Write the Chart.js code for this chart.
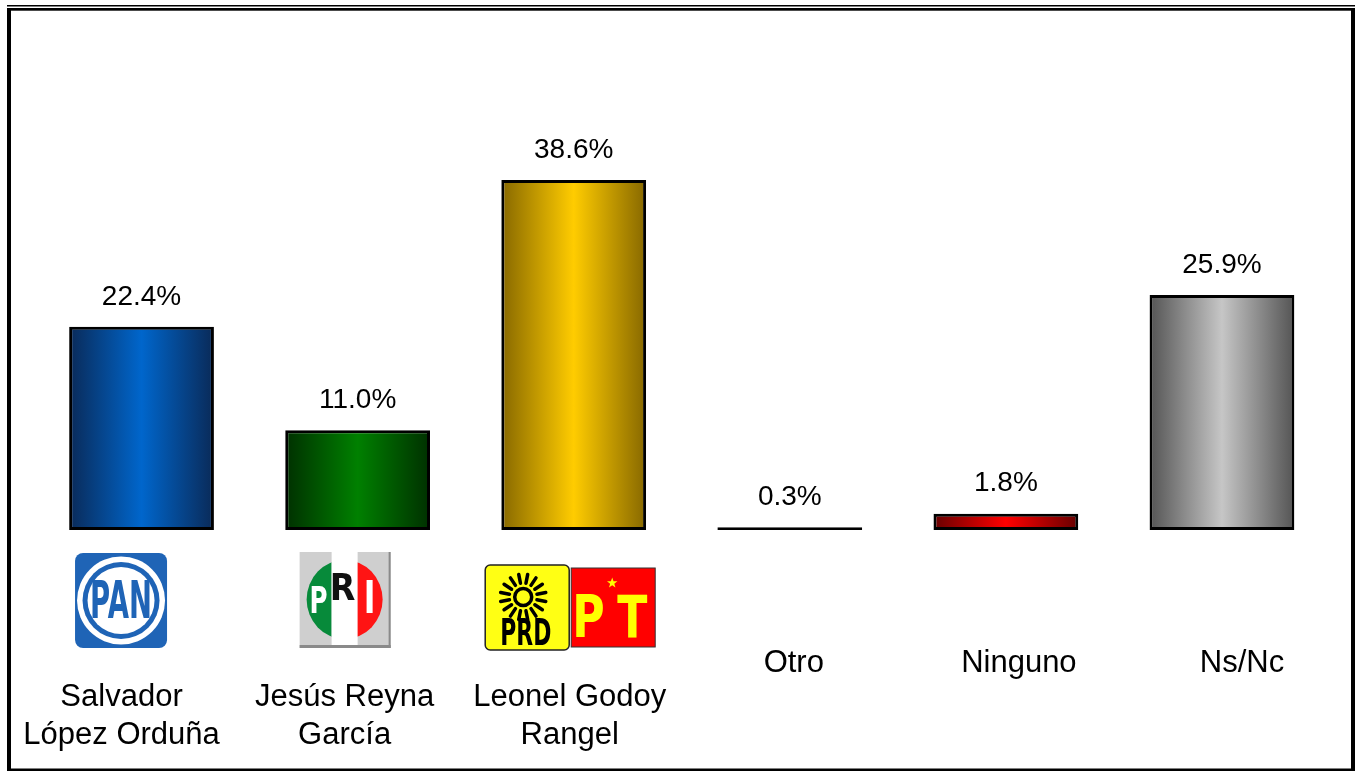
<!DOCTYPE html>
<html><head><meta charset="utf-8">
<script src="https://cdn.jsdelivr.net/npm/chart.js@4/dist/chart.umd.min.js"></script>
<style>html,body{margin:0;padding:0;background:#fff;overflow:hidden}</style>
</head><body>
<canvas id="c" width="1356" height="772"></canvas>
<script>
// ---- data ----
const categories = [['Salvador','López Orduña'],['Jesús Reyna','García'],['Leonel Godoy','Rangel'],['Otro'],['Ninguno'],['Ns/Nc']];
const values = [22.4, 11.0, 38.6, 0.3, 1.8, 25.9];
const parties = ['PAN','PRI','PRD+PT','','',''];
const yMin = 0, yMax = 50;

// ---- styles ----
const barColors = [['#0a2a58','#0066cc'],['#003000','#008000'],['#876800','#ffcc00'],['#000000','#111111'],['#660000','#ff0000'],['#545454','#c6c6c6']];
const labelDx = [-20,-13,-4,4,13,20];
const FONT = '"Liberation Sans", Arial, sans-serif';
const BOLDFAM = '"DejaVu Sans", "Liberation Sans", Arial, sans-serif';
const BAR_PCT = 0.67;

function grad(c){
  const chart=c.chart, xs=chart.scales.x, i=c.dataIndex, pair=barColors[i];
  if(!xs || !chart.chartArea) return pair[1];
  const cx=xs.getPixelForValue(i), w=(xs.width/categories.length)*BAR_PCT;
  const g=chart.ctx.createLinearGradient(cx-w/2,0,cx+w/2,0);
  g.addColorStop(0,pair[0]); g.addColorStop(0.5,pair[1]); g.addColorStop(1,pair[0]);
  return g;
}

function boxText(ctx, txt, x0, y0, x1, y1, color){
  ctx.save(); ctx.font = 'bold 100px '+BOLDFAM;
  ctx.textAlign='left'; ctx.textBaseline='alphabetic';
  const m=ctx.measureText(txt);
  const w=m.actualBoundingBoxLeft+m.actualBoundingBoxRight, h=m.actualBoundingBoxAscent+m.actualBoundingBoxDescent;
  ctx.translate(x0,y0); ctx.scale((x1-x0)/w,(y1-y0)/h);
  ctx.fillStyle=color;
  ctx.fillText(txt, m.actualBoundingBoxLeft, m.actualBoundingBoxAscent);
  ctx.restore();
}
function rrect(ctx,x,y,w,h,r){ctx.beginPath();ctx.moveTo(x+r,y);ctx.arcTo(x+w,y,x+w,y+h,r);ctx.arcTo(x+w,y+h,x,y+h,r);ctx.arcTo(x,y+h,x,y,r);ctx.arcTo(x,y,x+w,y,r);ctx.closePath();}

function drawPAN(ctx,bx,base){
  const x0=bx-66.5,y0=base+23,w=92,h=95,cx=bx-20.5,cy=base+70.5;
  ctx.fillStyle='#1f64b6'; rrect(ctx,x0,y0,w,h,8); ctx.fill();
  ctx.fillStyle='#fff'; ctx.beginPath(); ctx.arc(cx,cy,44,0,Math.PI*2); ctx.fill();
  ctx.fillStyle='#1f64b6'; ctx.beginPath(); ctx.arc(cx,cy,38.5,0,Math.PI*2); ctx.fill();
  ctx.fillStyle='#fff'; ctx.beginPath(); ctx.arc(cx,cy,33.5,0,Math.PI*2); ctx.fill();
  boxText(ctx,'PAN',cx-28.5,cy-20,cx+28.5,cy+18,'#1f64b6');
}
function drawPRI(ctx,bx,base){
  const x0=bx-58,y0=base+22,x1=bx+33,y1=base+118;
  ctx.fillStyle='#cfcfcf'; ctx.fillRect(x0,y0,x1-x0,y1-y0);
  ctx.fillStyle='#ffffff'; ctx.fillRect(bx-26,y0,26,y1-y0);
  ctx.fillStyle='#8a8a8a'; ctx.fillRect(x0,y1-3,x1-x0,3); ctx.fillRect(x1-2,y0,2,y1-y0);
  const cx=bx-13,cy=base+69.5;
  ctx.save(); ctx.beginPath(); ctx.ellipse(cx,cy,38,39.5,0,0,Math.PI*2); ctx.clip();
  ctx.fillStyle='#078a3a'; ctx.fillRect(cx-40,cy-42,bx-26-(cx-40),84);
  ctx.fillStyle='#ffffff'; ctx.fillRect(bx-26,cy-42,26,84);
  ctx.fillStyle='#ff1414'; ctx.fillRect(bx,cy-42,45,84);
  ctx.restore();
  boxText(ctx,'P',bx-46,base+55,bx-31,base+83,'#fff');
  boxText(ctx,'R',bx-25,base+43,bx-3,base+70,'#111');
  boxText(ctx,'I',bx+9,base+50,bx+15,base+83,'#fff');
}
function drawPRDPT(ctx,bx,base){
  const x0=bx-88.5,y0=base+35;
  ctx.fillStyle='#ffff14'; rrect(ctx,x0,y0,84,85,5); ctx.fill();
  ctx.strokeStyle='#222'; ctx.lineWidth=1.5; ctx.stroke();
  const sx=bx-50.5, sy=base+67;
  ctx.strokeStyle='#000'; ctx.lineWidth=3.5;
  ctx.beginPath(); ctx.arc(sx,sy,8.5,0,Math.PI*2); ctx.stroke();
  ctx.lineCap='round';
  for(let k=0;k<16;k++){const a=k*Math.PI*2/16+Math.PI/16; ctx.beginPath(); ctx.moveTo(sx+Math.cos(a)*14,sy+Math.sin(a)*14); ctx.lineTo(sx+Math.cos(a)*23,sy+Math.sin(a)*23); ctx.stroke();}
  ctx.lineCap='butt';
  boxText(ctx,'PRD',bx-71.5,base+88,bx-23.5,base+115,'#000');
  ctx.fillStyle='#ff0000'; ctx.fillRect(bx-2.5,base+38,84,79);
  ctx.strokeStyle='#333'; ctx.lineWidth=1; ctx.strokeRect(bx-2.5,base+38,84,79);
  boxText(ctx,'P',bx+2.5,base+65,bx+29.5,base+108,'#ffff00');
  boxText(ctx,'T',bx+43.5,base+65,bx+73.5,base+108,'#ffff00');
  const stx=bx+38.5,sty=base+53; ctx.fillStyle='#ffff00'; ctx.beginPath();
  for(let k=0;k<10;k++){const r=k%2?2.2:5.5,a=-Math.PI/2+k*Math.PI/5; const px=stx+Math.cos(a)*r,py=sty+Math.sin(a)*r; k?ctx.lineTo(px,py):ctx.moveTo(px,py);} ctx.closePath(); ctx.fill();
}

const decor = {
  id:'decor',
  beforeDraw(chart){const c=chart.ctx; c.save(); c.fillStyle='#fff'; c.fillRect(0,0,chart.width,chart.height); c.restore();},
  afterDatasetsDraw(chart){
    const ctx=chart.ctx, meta=chart.getDatasetMeta(0), xs=chart.scales.x, base=chart.chartArea.bottom;
    ctx.save();
    ctx.fillStyle='#000'; ctx.textAlign='center'; ctx.textBaseline='middle';
    ctx.font='28px '+FONT;
    meta.data.forEach((el,i)=>{ ctx.fillText(values[i].toFixed(1)+'%', el.x, el.y-30); });
    ctx.font='31px '+FONT;
    categories.forEach((lines,i)=>{
      const x=xs.getPixelForValue(i)+labelDx[i];
      if(lines.length===1){ ctx.fillText(lines[0], x, base+133); }
      else lines.forEach((t,j)=>ctx.fillText(t, x, base+167+j*38));
    });
    parties.forEach((p,i)=>{
      const bx=xs.getPixelForValue(i);
      if(p==='PAN') drawPAN(ctx,bx,base);
      else if(p==='PRI') drawPRI(ctx,bx,base);
      else if(p==='PRD+PT') drawPRDPT(ctx,bx,base);
    });
    ctx.fillStyle='#000';
    ctx.fillRect(7,5,1348,1.5);
    ctx.fillRect(7,8,1348,2.7);
    ctx.fillRect(7,8,4,763);
    ctx.fillRect(1351,8,4,763);
    ctx.fillRect(7,768.5,1348,2.5);
    ctx.restore();
  }
};

new Chart(document.getElementById('c'), {
  type:'bar',
  data:{ labels: categories.map(c=>c.join(' ')),
    datasets:[{ data: values, backgroundColor: grad, borderColor:'#000', borderWidth:3, borderSkipped:false,
      barPercentage:BAR_PCT, categoryPercentage:1 }]},
  options:{
    responsive:false, animation:false, devicePixelRatio:1,
    layout:{padding:{left:33.5, right:26, top:76.5, bottom:242}},
    plugins:{legend:{display:false}, tooltip:{enabled:false}, title:{display:false}},
    scales:{ x:{display:false, grid:{display:false}}, y:{display:false, min:yMin, max:yMax, grid:{display:false}} }
  },
  plugins:[decor]
});
</script>
</body></html>
